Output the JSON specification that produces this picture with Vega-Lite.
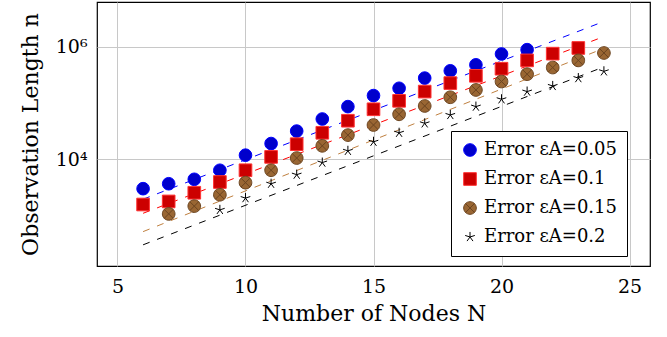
{
  "$schema": "https://vega.github.io/schema/vega-lite/v6.json",
  "width": 553,
  "height": 264,
  "autosize": {"type": "none"},
  "padding": {"left": 97, "top": 2, "right": 17, "bottom": 71},
  "background": "white",
  "datasets": {
    "pts": [
      {"N": 6, "n": 3000, "s": "Error εA=0.05"},
      {"N": 7, "n": 3670, "s": "Error εA=0.05"},
      {"N": 8, "n": 4400, "s": "Error εA=0.05"},
      {"N": 9, "n": 6370, "s": "Error εA=0.05"},
      {"N": 10, "n": 11800, "s": "Error εA=0.05"},
      {"N": 11, "n": 19000, "s": "Error εA=0.05"},
      {"N": 12, "n": 31600, "s": "Error εA=0.05"},
      {"N": 13, "n": 51800, "s": "Error εA=0.05"},
      {"N": 14, "n": 86000, "s": "Error εA=0.05"},
      {"N": 15, "n": 135000, "s": "Error εA=0.05"},
      {"N": 16, "n": 182000, "s": "Error εA=0.05"},
      {"N": 17, "n": 276000, "s": "Error εA=0.05"},
      {"N": 18, "n": 372000, "s": "Error εA=0.05"},
      {"N": 19, "n": 475000, "s": "Error εA=0.05"},
      {"N": 20, "n": 740000, "s": "Error εA=0.05"},
      {"N": 21, "n": 883000, "s": "Error εA=0.05"},
      {"N": 6, "n": 1570, "s": "Error εA=0.1"},
      {"N": 7, "n": 1780, "s": "Error εA=0.1"},
      {"N": 8, "n": 2540, "s": "Error εA=0.1"},
      {"N": 9, "n": 3940, "s": "Error εA=0.1"},
      {"N": 10, "n": 6370, "s": "Error εA=0.1"},
      {"N": 11, "n": 11000, "s": "Error εA=0.1"},
      {"N": 12, "n": 18500, "s": "Error εA=0.1"},
      {"N": 13, "n": 29500, "s": "Error εA=0.1"},
      {"N": 14, "n": 48300, "s": "Error εA=0.1"},
      {"N": 15, "n": 77100, "s": "Error εA=0.1"},
      {"N": 16, "n": 109000, "s": "Error εA=0.1"},
      {"N": 17, "n": 159000, "s": "Error εA=0.1"},
      {"N": 18, "n": 225000, "s": "Error εA=0.1"},
      {"N": 19, "n": 303000, "s": "Error εA=0.1"},
      {"N": 20, "n": 405000, "s": "Error εA=0.1"},
      {"N": 21, "n": 569000, "s": "Error εA=0.1"},
      {"N": 22, "n": 750000, "s": "Error εA=0.1"},
      {"N": 23, "n": 946000, "s": "Error εA=0.1"},
      {"N": 7, "n": 1070, "s": "Error εA=0.15"},
      {"N": 8, "n": 1470, "s": "Error εA=0.15"},
      {"N": 9, "n": 2340, "s": "Error εA=0.15"},
      {"N": 10, "n": 3840, "s": "Error εA=0.15"},
      {"N": 11, "n": 6370, "s": "Error εA=0.15"},
      {"N": 12, "n": 10500, "s": "Error εA=0.15"},
      {"N": 13, "n": 17300, "s": "Error εA=0.15"},
      {"N": 14, "n": 26800, "s": "Error εA=0.15"},
      {"N": 15, "n": 40500, "s": "Error εA=0.15"},
      {"N": 16, "n": 62800, "s": "Error εA=0.15"},
      {"N": 17, "n": 88300, "s": "Error εA=0.15"},
      {"N": 18, "n": 126000, "s": "Error εA=0.15"},
      {"N": 19, "n": 170000, "s": "Error εA=0.15"},
      {"N": 20, "n": 240000, "s": "Error εA=0.15"},
      {"N": 21, "n": 324000, "s": "Error εA=0.15"},
      {"N": 22, "n": 425000, "s": "Error εA=0.15"},
      {"N": 23, "n": 569000, "s": "Error εA=0.15"},
      {"N": 24, "n": 771000, "s": "Error εA=0.15"},
      {"N": 9, "n": 1260, "s": "Error εA=0.2"},
      {"N": 10, "n": 2040, "s": "Error εA=0.2"},
      {"N": 11, "n": 3670, "s": "Error εA=0.2"},
      {"N": 12, "n": 5320, "s": "Error εA=0.2"},
      {"N": 13, "n": 8720, "s": "Error εA=0.2"},
      {"N": 14, "n": 14100, "s": "Error εA=0.2"},
      {"N": 15, "n": 20400, "s": "Error εA=0.2"},
      {"N": 16, "n": 29500, "s": "Error εA=0.2"},
      {"N": 17, "n": 43400, "s": "Error εA=0.2"},
      {"N": 18, "n": 61100, "s": "Error εA=0.2"},
      {"N": 19, "n": 86000, "s": "Error εA=0.2"},
      {"N": 20, "n": 116000, "s": "Error εA=0.2"},
      {"N": 21, "n": 159000, "s": "Error εA=0.2"},
      {"N": 22, "n": 200000, "s": "Error εA=0.2"},
      {"N": 23, "n": 276000, "s": "Error εA=0.2"},
      {"N": 24, "n": 364000, "s": "Error εA=0.2"}
    ],
    "fits": [
      {"N": 6, "n": 1950, "fit": "a"},
      {"N": 24, "n": 2800000, "fit": "a"},
      {"N": 6, "n": 1096, "fit": "b"},
      {"N": 24, "n": 1510000, "fit": "b"},
      {"N": 6, "n": 518, "fit": "c"},
      {"N": 24, "n": 933000, "fit": "c"},
      {"N": 6, "n": 302, "fit": "d"},
      {"N": 24, "n": 437000, "fit": "d"}
    ]
  },
  "encoding": {
    "x": {
      "field": "N", "type": "quantitative",
      "scale": {"domain": [4.2, 25.8], "nice": false, "zero": false},
      "axis": {"values": [5, 10, 15, 20, 25], "title": "Number of Nodes N", "titlePadding": 7, "labelPadding": 11}
    },
    "y": {
      "field": "n", "type": "quantitative",
      "scale": {"type": "log", "domain": [127, 6200000], "nice": false},
      "axis": {"values": [10000, 1000000], "title": "Observation Length n",
               "labelExpr": "datum.value == 10000 ? '10⁴' : '10⁶'", "labelPadding": 10, "titlePadding": 13}
    }
  },
  "layer": [
    {
      "data": {"name": "fits"},
      "mark": {"type": "line", "strokeWidth": 1, "strokeDash": [7, 8]},
      "encoding": {
        "color": {
          "field": "fit", "type": "nominal", "legend": null,
          "scale": {"domain": ["a", "b", "c", "d"], "range": ["#0000ff", "#ff0000", "#bf8040", "#000000"]}
        },
        "detail": {"field": "fit"}
      }
    },
    {
      "data": {"name": "pts"},
      "mark": {"type": "point", "filled": true, "size": 160, "strokeWidth": 1, "opacity": 1, "fillOpacity": 1, "strokeOpacity": 1},
      "encoding": {
        "fill": {
          "field": "s", "type": "nominal", "title": null,
          "scale": {"domain": ["Error εA=0.05", "Error εA=0.1", "Error εA=0.15", "Error εA=0.2"],
                    "range": ["#0000cc", "#cc0000", "#996633", "transparent"]}
        },
        "stroke": {
          "field": "s", "type": "nominal", "title": null,
          "scale": {"domain": ["Error εA=0.05", "Error εA=0.1", "Error εA=0.15", "Error εA=0.2"],
                    "range": ["#0000ff", "#ff3333", "#6b4420", "#000000"]}
        },
        "shape": {
          "field": "s", "type": "nominal", "title": null,
          "scale": {"domain": ["Error εA=0.05", "Error εA=0.1", "Error εA=0.15", "Error εA=0.2"],
                    "range": ["circle", "square",
                              "M1,0A1,1,0,1,1,-1,0A1,1,0,1,1,1,0ZM-0.707,-0.707L0.707,0.707M-0.707,0.707L0.707,-0.707",
                              "M0,0L0,-0.8M0,0L0.761,-0.247M0,0L0.47,0.647M0,0L-0.47,0.647M0,0L-0.761,-0.247"]}
        }
      }
    }
  ],
  "config": {
    "font": "DejaVu Serif",
    "view": {"stroke": "#000000", "strokeWidth": 1.2},
    "axis": {
      "domain": false, "ticks": false,
      "grid": true, "gridColor": "#c8c8c8", "gridWidth": 1,
      "labelFont": "DejaVu Serif", "labelFontSize": 19, "labelColor": "#000000",
      "titleFont": "DejaVu Serif", "titleFontSize": 22, "titleFontWeight": "normal", "titleColor": "#000000"
    },
    "legend": {
      "orient": "none", "legendX": 354, "legendY": 129,
      "strokeColor": "#000000", "fillColor": "#ffffff", "padding": 10,
      "labelFont": "DejaVu Serif", "labelFontSize": 18, "labelColor": "#000000", "labelLimit": 300,
      "symbolSize": 160, "symbolStrokeWidth": 1, "rowPadding": 11, "labelOffset": 5
    }
  }
}
